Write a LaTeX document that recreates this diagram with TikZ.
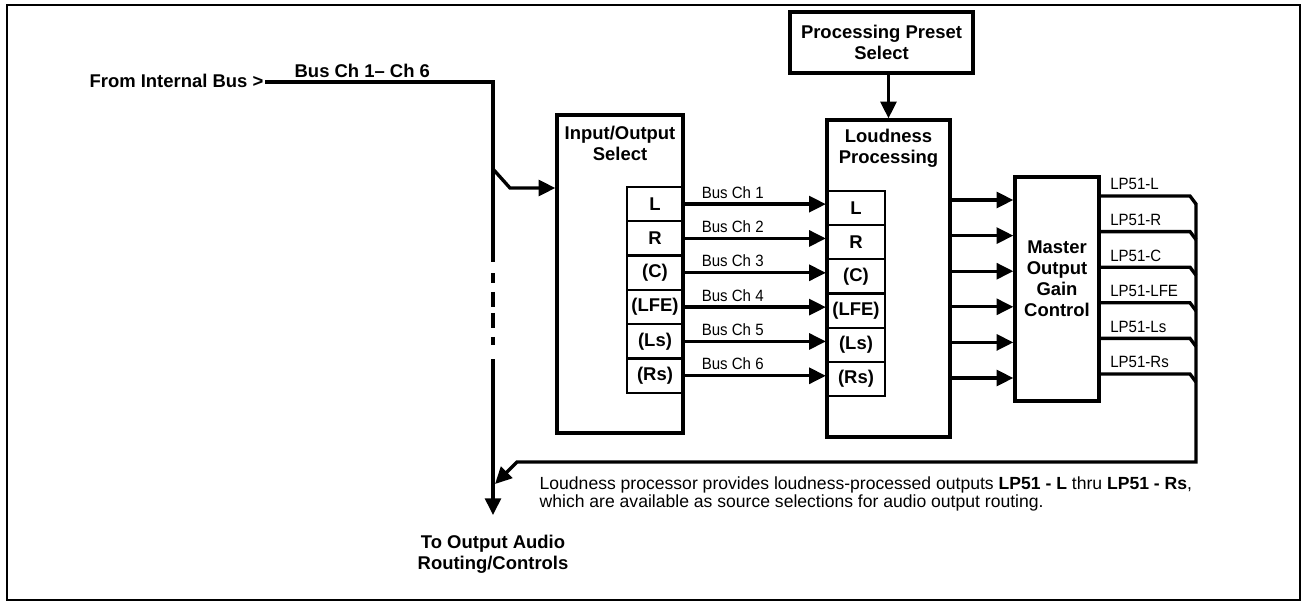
\documentclass[tikz,border=0pt]{standalone}
\usepackage{fontspec}
\setmainfont{Liberation Sans}
\newfontfamily\narrowfont[FakeStretch=0.92]{Liberation Sans}
\usetikzlibrary{arrows.meta,positioning}

\tikzset{
  blk/.style={draw, line width=1.9pt, inner sep=0pt},
  cell/.style={draw, line width=1.3pt, inner sep=0pt},
  ttl/.style={align=center, inner sep=0pt, font=\bfseries\fontsize{10.5}{12}\selectfont},
  lbl/.style={inner sep=0pt, font=\narrowfont\mdseries\fontsize{9.3}{11}\selectfont},
  arr/.style={-{Triangle[length=9.5pt,width=9pt]}, line width=1.9pt},
}

\begin{document}
\begin{tikzpicture}[x=0.02cm, y=-0.02cm, line width=1.9pt, font=\bfseries\fontsize{10.5}{12}\selectfont]
  \useasboundingbox (0,0) rectangle (1302,602);
  \draw[line width=1.3pt] (7,5) rectangle (1300,600);

  % blocks
  \node[blk, minimum width=2.52cm, minimum height=6.36cm] (iosel) at (620,274) {};
  \node[ttl, below=0.23cm of iosel.north] (iottl) {Input/Output\\Select};
  \node[blk, minimum width=2.46cm, minimum height=6.34cm] (loud) at (888.5,278.5) {};
  \node[ttl, below=0.19cm of loud.north] (loudttl) {Loudness\\Processing};
  \node[blk, ttl, minimum width=3.66cm, minimum height=1.22cm] (preset) at (881.5,42.5) {Processing Preset\\Select};
  \node[blk, minimum width=1.68cm, minimum height=4.48cm] (gain) at (1057,289) {};
  \node[ttl] (gainttl) at (1057,279) {Master\\Output\\Gain\\Control};

  \draw[arr] (preset.south -| loud.north) -- (loud.north);

  % channel cells and bus links
  \foreach \ch [count=\i] in {L,R,(C),(LFE),(Ls),(Rs)} {
    \node[cell, minimum width=1.12cm, minimum height=0.687cm] (io\i) at (655,{169.8+34.33*\i}) {\ch};
    \node[cell, minimum width=1.16cm, minimum height=0.683cm] (lc\i) at (856,{173.9+34.17*\i}) {\ch};
    \draw[arr] (io\i.east) -- (io\i.east -| lc\i.west)
      node[lbl, pos=0, anchor=south west, xshift=0.32cm, yshift=2.4pt] (bl\i) {Bus Ch \i};
  }

  % gain inputs
  \foreach \i in {1,...,6} {
    \draw[arr] (loud.east) ++(0,{35.6*\i-114.1}) coordinate (gi\i) -- (gi\i -| gain.west);
  }

  % gain outputs onto return bus
  \coordinate (ojog) at (1190,0);
  \coordinate (obus) at (1196,203);
  \coordinate (ret) at (1196,462);
  \coordinate (retk) at (517,462);
  \coordinate (rettip) at (495,484);
  \foreach \ch [count=\i] in {L,R,C,LFE,Ls,Rs} {
    \draw (gain.east) ++(0,{35.6*\i-128.6}) coordinate (go\i) -- (go\i -| ojog) -- ++(6,8);
    \node[lbl, anchor=south west, xshift=0.16cm, yshift=2.4pt] (ol\i) at (go\i) {LP51-\ch};
  }
  \draw[arr] (obus) -- (ret) -- (retk) -- (rettip);

  % main bus
  \node[ttl, anchor=base east] (src) at (265,87) {From Internal Bus >};
  \node[ttl, anchor=base west] (buslbl) at (293,77) {Bus Ch 1– Ch 6};
  \coordinate (bus) at (493,82);
  \coordinate (tap) at (493,169);
  \coordinate (knee) at (510,188);
  \coordinate (gapa) at (493,262);
  \coordinate (dasha) at (493,273);
  \coordinate (dashb) at (493,345);
  \coordinate (gapb) at (493,359);
  \node[ttl, anchor=north] (dest) at (493,533) {To Output Audio\\Routing/Controls};
  \draw (src.east |- bus) -- (bus) -- (gapa);
  \draw[dash pattern=on 5.7pt off 5.1pt on 8.5pt off 3.4pt on 8.5pt off 5.1pt on 4.5pt] (dasha) -- (dashb);
  \draw[arr, shorten >=0.36cm] (gapb) -- (dest.north);
  \draw[arr] (tap) -- (knee) -- (knee -| iosel.west);

  \node[anchor=north west, align=left, inner sep=0pt, font=\mdseries\fontsize{10}{10.5}\selectfont] (note) at (538,475)
    {Loudness processor provides loudness-processed outputs \textbf{LP51 - L} thru \textbf{LP51 - Rs},\\
     which are available as source selections for audio output routing.};
\end{tikzpicture}
\end{document}
